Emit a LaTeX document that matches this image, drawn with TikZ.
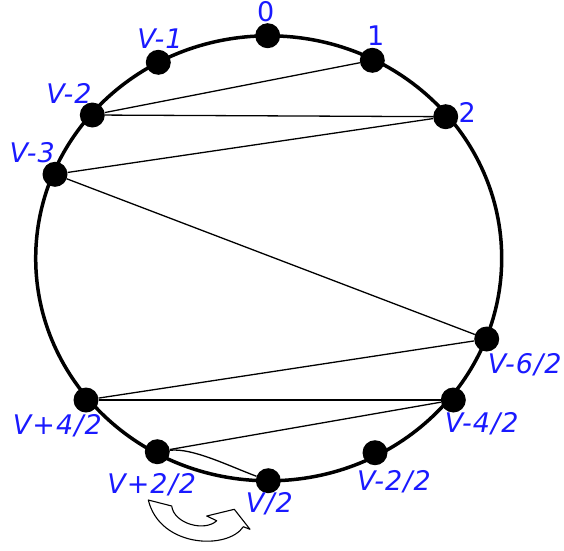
\documentclass[tikz,border=0pt]{standalone}
\usepackage{fontspec}
\usepackage{tikz}
\usepackage{xcolor}
\usetikzlibrary{arrows.meta,positioning,calc}
\newfontfamily\lblfont{DejaVu Sans}[LetterSpace=4]
\definecolor{ink}{HTML}{000000}
\definecolor{lblblue}{HTML}{1A1AFF}
\tikzset{
  vertex/.style={circle,fill=ink,inner sep=0pt,minimum size=25pt},
  vlabel/.style={text=lblblue,inner sep=0pt,
                 font=\lblfont\itshape\fontsize{27}{27}\selectfont},
  nlabel/.style={text=lblblue,inner sep=0pt,
                 font=\lblfont\fontsize{27}{27}\selectfont},
  ring/.style={draw=ink,line width=3.5pt},
  chord/.style={draw=ink,line width=1.3pt},
  uturn/.style={draw=ink,fill=white,line width=1.1pt,line join=round}
}

\begin{document}
\begin{tikzpicture}[x=1pt,y=-1pt]
  \useasboundingbox (0,0) rectangle (564,550);
  \draw[ring] (268.7,258.3) ellipse [x radius=233, y radius=222.5];

  \node[vertex] (top0) at (267.7,35.7) {};
  \node[vertex] (top1) at (372.3,60.3) {};
  \node[vertex] (top2) at (445.7,116.7) {};
  \node[vertex] (h6) at (486.7,339) {};
  \node[vertex] (h4) at (453.3,400) {};
  \node[vertex] (h2) at (375,452.7) {};
  \node[vertex] (half) at (268.3,480.7) {};
  \node[vertex] (hp2) at (157.3,451.7) {};
  \node[vertex] (hp4) at (86,400) {};
  \node[vertex] (vm3) at (55,174.3) {};
  \node[vertex] (vm2) at (92.3,115) {};
  \node[vertex] (vm1) at (158.3,62.3) {};

  \draw[chord] (top1)--(vm2);
  \draw[chord] (vm2)--(top2);
  \draw[chord] (top2)--(vm3);
  \draw[chord] (vm3)--(h6);
  \draw[chord] (h6)--(hp4);
  \draw[chord] (hp4)--(h4);
  \draw[chord] (h4)--(hp2);
  \draw[chord] (hp2) .. controls +(35,-4) and +(-40,-15) .. (half);

  \node[nlabel] (l0) at (265.7,11.7) {0};
  \node[nlabel] (l1) at (375.7,36) {1};
  \node[nlabel] (l2) at (467.3,112.7) {2};
  \node[vlabel] (lvm1) at (160,39) {V-1};
  \node[vlabel] (lvm2) at (69,93.3) {V-2};
  \node[vlabel] (lvm3) at (32.3,152.3) {V-3};
  \node[vlabel] (lh6) at (524.7,364.3) {V-6/2};
  \node[vlabel] (lh4) at (481.7,423.3) {V-4/2};
  \node[vlabel] (lh2) at (394,481.7) {V-2/2};
  \node[vlabel] (lhalf) at (269.3,504) {V/2};
  \node[vlabel] (lhp2) at (151.7,485) {V+2/2};
  \node[vlabel] (lhp4) at (57.3,425.7) {V+4/2};

  \draw[uturn] (148.3,500) -- (171.7,506) .. controls (174,524) and (205,532) .. (216.7,520.7)
    -- (206.7,516) -- (234.3,509.3) -- (250,529.3) -- (243.3,526.7)
    .. controls (228,550) and (160,548) .. (148.3,500) -- cycle;
\end{tikzpicture}
\end{document}
